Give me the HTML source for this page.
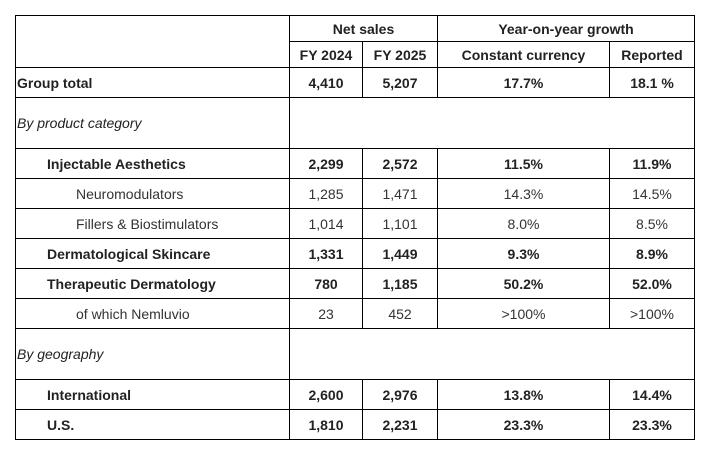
<!DOCTYPE html>
<html><head><style>
body{margin:0;background:#fff;width:709px;height:451px;overflow:hidden}
table{position:absolute;left:15px;top:15px;border-collapse:collapse;table-layout:fixed;font-family:"Liberation Sans",Arial,sans-serif;font-size:14px;color:#222}
td{border:1px solid #000;padding:0;text-align:center;vertical-align:middle;white-space:nowrap;overflow:hidden}
.b{font-weight:bold}
.l{text-align:left;padding-left:1px}
.i1{padding-left:31px;text-align:left}
.i2{padding-left:60px;text-align:left}
.it{font-style:italic;text-align:left;padding-left:1px}
.n{color:#333}
</style></head><body>
<table>
<colgroup><col style="width:274px"><col style="width:73px"><col style="width:75px"><col style="width:172px"><col style="width:85px"></colgroup>
<tr style="height:26px"><td rowspan="2"></td><td colspan="2" class="b">Net sales</td><td colspan="2" class="b">Year-on-year growth</td></tr>
<tr style="height:26px"><td class="b">FY 2024</td><td class="b">FY 2025</td><td class="b">Constant currency</td><td class="b">Reported</td></tr>
<tr style="height:30px" class="b"><td class="l">Group total</td><td>4,410</td><td>5,207</td><td>17.7%</td><td>18.1 %</td></tr>
<tr style="height:51px"><td class="it">By product category</td><td colspan="4"></td></tr>
<tr style="height:30px" class="b"><td class="i1">Injectable Aesthetics</td><td>2,299</td><td>2,572</td><td>11.5%</td><td>11.9%</td></tr>
<tr style="height:30px" class="n"><td class="i2">Neuromodulators</td><td>1,285</td><td>1,471</td><td>14.3%</td><td>14.5%</td></tr>
<tr style="height:30px" class="n"><td class="i2">Fillers &amp; Biostimulators</td><td>1,014</td><td>1,101</td><td>8.0%</td><td>8.5%</td></tr>
<tr style="height:30px" class="b"><td class="i1">Dermatological Skincare</td><td>1,331</td><td>1,449</td><td>9.3%</td><td>8.9%</td></tr>
<tr style="height:30px" class="b"><td class="i1">Therapeutic Dermatology</td><td>780</td><td>1,185</td><td>50.2%</td><td>52.0%</td></tr>
<tr style="height:30px" class="n"><td class="i2">of which Nemluvio</td><td>23</td><td>452</td><td>&gt;100%</td><td>&gt;100%</td></tr>
<tr style="height:51px"><td class="it">By geography</td><td colspan="4"></td></tr>
<tr style="height:30px" class="b"><td class="i1">International</td><td>2,600</td><td>2,976</td><td>13.8%</td><td>14.4%</td></tr>
<tr style="height:30px" class="b"><td class="i1">U.S.</td><td>1,810</td><td>2,231</td><td>23.3%</td><td>23.3%</td></tr>
</table>
</body></html>
